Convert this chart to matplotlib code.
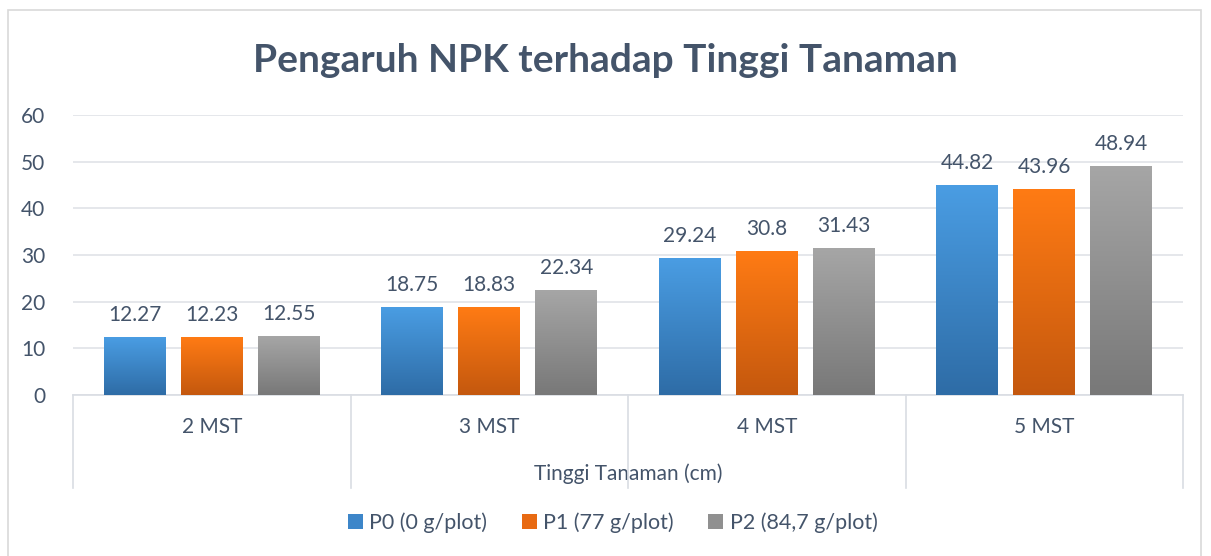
import numpy as np
import matplotlib.pyplot as plt
from matplotlib.colors import LinearSegmentedColormap
from matplotlib.patches import Rectangle, Patch
import matplotlib.transforms as mtransforms

plt.rcParams['font.family'] = ['Lato', 'DejaVu Sans']

categories = ['2 MST', '3 MST', '4 MST', '5 MST']
series_names = ['P0 (0 g/plot)', 'P1 (77 g/plot)', 'P2 (84,7 g/plot)']
p0 = [12.27, 18.75, 29.24, 44.82]
p1 = [12.23, 18.83, 30.8, 43.96]
p2 = [12.55, 22.34, 31.43, 48.94]
yticks = [0, 10, 20, 30, 40, 50, 60]

series = [p0, p1, p2]
grads = [('#4a9de3', '#2e6ca6'), ('#ff7b14', '#c4580e'), ('#a6a6a6', '#787878')]
mids = ['#3d86c9', '#e86a12', '#909090']
txt = '#44546a'

W, H = 1211, 556
fig = plt.figure(figsize=(W / 100, H / 100), dpi=100)
fig.patches.append(Rectangle((8 / W, -0.1), (1201 - 8) / W, 1.1 - 10 / H,
                             transform=fig.transFigure, fill=False,
                             edgecolor='#d9d9d9', linewidth=1.2))

ax = fig.add_axes([73 / W, (556 - 395) / H, (1183 - 73) / W, (395 - 115) / H])

bw = 0.223
step = 0.278
x = np.arange(len(categories))
for i, vals in enumerate(series):
    cmap = LinearSegmentedColormap.from_list('g%d' % i, [grads[i][1], grads[i][0]])
    grad = np.linspace(0, 1, 256).reshape(-1, 1)
    for j, v in enumerate(vals):
        cx = x[j] + (i - 1) * step
        ax.imshow(grad, cmap=cmap, origin='lower', aspect='auto',
                  extent=[cx - bw / 2, cx + bw / 2, 0, v], zorder=3)
        ax.annotate(f'{v:g}', (cx, v), xytext=(0, 9), textcoords='offset points',
                    ha='center', va='bottom', fontsize=15, color=txt)

ax.set_xlim(-0.5, 3.5)
ax.set_ylim(0, 60)
ax.set_yticks(yticks)
ax.set_xticks(x)
ax.set_xticklabels(categories)
ax.tick_params(axis='both', length=0, labelsize=15, colors=txt)
ax.tick_params(axis='y', pad=20)
ax.tick_params(axis='x', pad=16)
ax.grid(axis='y', color='#e0e3e8', linewidth=1.2)
ax.set_axisbelow(True)
for s in ['top', 'right', 'left']:
    ax.spines[s].set_visible(False)
ax.spines['bottom'].set_color('#d9dde3')
ax.spines['bottom'].set_linewidth(1.2)

trans = mtransforms.blended_transform_factory(ax.transData, ax.transAxes)
for sx in np.arange(-0.5, 4, 1):
    ax.plot([sx, sx], [0, -(488 - 395) / (395 - 115)], transform=trans,
            color='#d9dde3', linewidth=1.2, clip_on=False)

ax.set_xlabel('Tinggi Tanaman (cm)', fontsize=15, color=txt, labelpad=19)

fig.text(0.5, 1 - 60 / H, 'Pengaruh NPK terhadap Tinggi Tanaman', ha='center',
         va='center', fontsize=28, fontweight='bold', color=txt)

handles = [Patch(facecolor=m, edgecolor='none') for m in mids]
fig.legend(handles, series_names, loc='center', bbox_to_anchor=(0.506, 1 - 523 / H),
           ncol=3, frameon=False, fontsize=15.5, labelcolor=txt,
           handlelength=0.7, handleheight=0.7, handletextpad=0.3, columnspacing=1.6)

fig.savefig('out.png', dpi=100)
